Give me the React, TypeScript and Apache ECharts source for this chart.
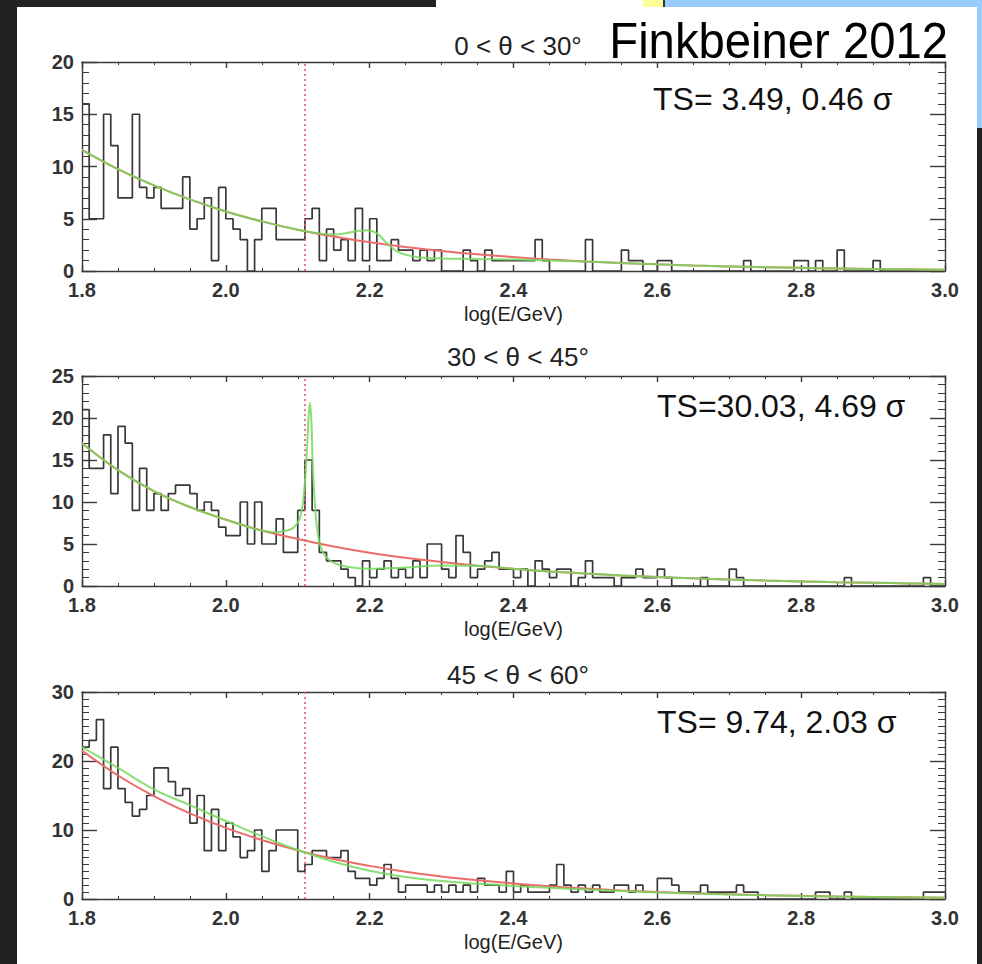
import React, { useEffect, useRef } from 'react';
import * as echarts from 'echarts';

const W = 982;
const H = 964;

// ---- data ----
const BIN_START = 1.8;
const BIN_WIDTH = 0.01;
const X_MIN = 1.8;
const X_MAX = 3.0;
const LINE_X = 2.114; // log10(130 GeV)

const TITLES = ['0 < θ < 30°', '30 < θ < 45°', '45 < θ < 60°'];
const TS_LABELS = ['TS= 3.49, 0.46 σ', 'TS=30.03, 4.69 σ', 'TS= 9.74, 2.03 σ'];
const X_NAME = 'log(E/GeV)';
const HEADER = 'Finkbeiner 2012';
const Y_MAX = [20, 25, 30];
const Y_STEP = [5, 5, 10];

const H1 = [
  16, 5, 5, 15, 12, 7, 7, 15, 8, 7,
  8, 6, 6, 6, 9, 4, 5, 7, 1, 8,
  5, 4, 3, 0, 3, 6, 6, 3, 3, 3,
  3, 5, 6, 1, 4, 2, 3, 1, 6, 1,
  5, 1, 1, 3, 2, 2, 1, 2, 1, 2,
  0, 0, 0, 2, 1, 0, 2, 1, 1, 1,
  1, 1, 1, 3, 1, 0, 0, 0, 0, 0,
  3, 0, 0, 0, 0, 2, 1, 1, 0, 0,
  1, 1, 0, 0, 0, 0, 0, 0, 0, 0,
  0, 0, 1, 0, 0, 0, 0, 0, 0, 1,
  1, 0, 1, 0, 0, 2, 0, 0, 0, 0,
  1, 0, 0, 0, 0, 0, 0, 0, 0, 0,
];

const H2 = [
  21, 14, 14, 18, 11, 19, 17, 9, 14, 9,
  11, 9, 11, 12, 12, 11, 9, 10, 9, 7,
  6, 6, 10, 5, 10, 5, 5, 8, 4, 4,
  9, 15, 9, 4, 3, 3, 2, 1, 0, 3,
  1, 2, 3, 1, 2, 1, 3, 1, 5, 5,
  2, 1, 6, 4, 1, 2, 3, 4, 2, 2,
  1, 2, 0, 3, 2, 1, 2, 2, 0, 1,
  3, 1, 1, 1, 0, 1, 1, 2, 1, 1,
  2, 1, 0, 0, 0, 0, 1, 0, 0, 0,
  2, 1, 0, 0, 0, 0, 0, 0, 0, 0,
  0, 0, 0, 0, 0, 0, 1, 0, 0, 0,
  0, 0, 0, 0, 0, 0, 0, 1, 0, 0,
];

const H3 = [
  22, 23, 26, 16, 22, 16, 14, 12, 13, 15,
  19, 19, 17, 15, 16, 11, 15, 7, 13, 7,
  11, 9, 6, 7, 10, 4, 7, 10, 10, 10,
  4, 5, 7, 7, 6, 6, 7, 4, 3, 3,
  2, 3, 5, 3, 1, 2, 2, 2, 1, 2,
  1, 2, 1, 2, 1, 3, 2, 2, 1, 4,
  1, 2, 1, 1, 1, 2, 5, 2, 1, 2,
  1, 2, 1, 1, 2, 2, 1, 2, 1, 1,
  3, 3, 2, 1, 1, 1, 2, 1, 1, 1,
  1, 2, 1, 1, 0, 0, 0, 0, 0, 0,
  0, 0, 1, 1, 0, 0, 1, 0, 0, 0,
  0, 0, 0, 0, 0, 0, 0, 1, 1, 1,
];

const RED_1: [number, number][] = [
  [1.8, 11.6], [1.85, 9.75], [1.9, 8.2], [1.95, 6.85], [2.0, 5.7], [2.05, 4.75], [2.1, 3.95],
  [2.15, 3.3], [2.2, 2.75], [2.25, 2.3], [2.3, 1.92], [2.35, 1.6], [2.4, 1.33], [2.45, 1.1],
  [2.5, 0.92], [2.55, 0.77], [2.6, 0.64], [2.65, 0.53], [2.7, 0.44], [2.75, 0.36], [2.8, 0.3],
  [2.85, 0.25], [2.9, 0.2], [2.95, 0.16], [3.0, 0.13],
];
const GREEN_1: [number, number][] = [
  [1.8, 11.6], [1.85, 9.75], [1.9, 8.2], [1.95, 6.85], [2.0, 5.7], [2.05, 4.75], [2.1, 3.95],
  [2.13, 3.6], [2.15, 3.5], [2.17, 3.65], [2.185, 3.85], [2.197, 3.9], [2.21, 3.6],
  [2.222, 2.8], [2.235, 2.0], [2.25, 1.55], [2.27, 1.3], [2.3, 1.2], [2.35, 1.15], [2.4, 1.1],
  [2.45, 1.0], [2.5, 0.9], [2.55, 0.77], [2.6, 0.64], [2.65, 0.53], [2.7, 0.44], [2.75, 0.36],
  [2.8, 0.3], [2.85, 0.25], [2.9, 0.2], [2.95, 0.16], [3.0, 0.13],
];

const RED_2: [number, number][] = [
  [1.8, 17.0], [1.85, 13.8], [1.9, 11.3], [1.95, 9.4], [2.0, 7.9], [2.05, 6.6], [2.1, 5.6],
  [2.15, 4.7], [2.2, 3.95], [2.25, 3.35], [2.3, 2.85], [2.35, 2.42], [2.4, 2.05], [2.45, 1.74],
  [2.5, 1.48], [2.55, 1.26], [2.6, 1.07], [2.65, 0.91], [2.7, 0.77], [2.75, 0.65], [2.8, 0.55],
  [2.85, 0.46], [2.9, 0.38], [2.95, 0.31], [3.0, 0.25],
];
const GREEN_2: [number, number][] = [
  [1.8, 17.0], [1.85, 13.8], [1.9, 11.3], [1.95, 9.4], [2.0, 7.9], [2.05, 6.6], [2.07, 6.4],
  [2.085, 6.6], [2.095, 7.0], [2.103, 8.1], [2.108, 10.5], [2.112, 15.0], [2.115, 20.0],
  [2.117, 21.8], [2.119, 19.5], [2.121, 14.0], [2.124, 9.5], [2.127, 6.8], [2.132, 4.6],
  [2.14, 3.4], [2.15, 2.75], [2.17, 2.25], [2.2, 2.05], [2.25, 2.2], [2.3, 2.45], [2.35, 2.4],
  [2.4, 2.05], [2.45, 1.74], [2.5, 1.48], [2.55, 1.26], [2.6, 1.07], [2.65, 0.91], [2.7, 0.77],
  [2.75, 0.65], [2.8, 0.55], [2.85, 0.46], [2.9, 0.38], [2.95, 0.31], [3.0, 0.25],
];

const RED_3: [number, number][] = [
  [1.8, 21.5], [1.85, 17.9], [1.9, 14.9], [1.95, 12.4], [2.0, 10.3], [2.05, 8.55], [2.1, 7.05],
  [2.15, 5.8], [2.2, 4.8], [2.25, 3.95], [2.3, 3.25], [2.35, 2.7], [2.4, 2.25], [2.45, 1.85],
  [2.5, 1.52], [2.55, 1.25], [2.6, 1.02], [2.65, 0.84], [2.7, 0.69], [2.75, 0.56], [2.8, 0.46],
  [2.85, 0.37], [2.9, 0.3], [2.95, 0.24], [3.0, 0.19],
];
const GREEN_3: [number, number][] = [
  [1.8, 22.0], [1.85, 19.0], [1.9, 15.9], [1.95, 13.6], [2.0, 11.3], [2.05, 9.1], [2.1, 7.1],
  [2.15, 5.4], [2.2, 4.1], [2.25, 3.2], [2.3, 2.6], [2.35, 2.2], [2.4, 1.9], [2.45, 1.62],
  [2.5, 1.38], [2.55, 1.15], [2.6, 0.96], [2.65, 0.8], [2.7, 0.66], [2.75, 0.54], [2.8, 0.44],
  [2.85, 0.36], [2.9, 0.29], [2.95, 0.23], [3.0, 0.18],
];

const HISTS = [H1, H2, H3];
const REDS = [RED_1, RED_2, RED_3];
const GREENS = [GREEN_1, GREEN_2, GREEN_3];

// ---- layout / style ----
const FONT = '"Liberation Sans", Arial, Helvetica, sans-serif';
const AXIS_COLOR = '#3a3a3a';
const GRID_LEFT = 82;
const GRID_WIDTH = 863;
const GRID_TOPS = [62, 376, 692];
const GRID_HEIGHTS = [209, 210, 207];
const TITLE_Y = [46, 357, 675];
const TS_POS = [[653, 99], [657, 406], [657, 722]];

function histData(values: number[]): [number, number][] {
  const pts: [number, number][] = values.map((v, i) => [
    Math.round((BIN_START + i * BIN_WIDTH) * 1000) / 1000,
    v,
  ]);
  pts.push([X_MAX, values[values.length - 1]]);
  return pts;
}

function buildOption() {
  const lineStyle = { color: AXIS_COLOR, width: 1.4 };
  const grids: any[] = [];
  const xAxes: any[] = [];
  const yAxes: any[] = [];
  const series: any[] = [];
  const graphics: any[] = [
    { type: 'rect', z: -10, shape: { x: 17, y: 7, width: 960, height: 957 }, style: { fill: '#ffffff' } },
    { type: 'rect', z: -10, shape: { x: 436, y: 0, width: 207, height: 8 }, style: { fill: '#ffffff' } },
    { type: 'rect', z: -10, shape: { x: 643, y: 0, width: 21, height: 7 }, style: { fill: '#ffff99' } },
    { type: 'rect', z: -10, shape: { x: 664, y: 0, width: 318, height: 7 }, style: { fill: '#99ccff' } },
    { type: 'rect', z: -10, shape: { x: 977, y: 0, width: 5, height: 128 }, style: { fill: '#99ccff' } },
    { type: 'rect', z: -9, shape: { x: 663, y: 0, width: 2, height: 7 }, style: { fill: '#333333' } },
    {
      type: 'text', z: 20, x: 948, y: 41, scaleX: 0.945,
      style: { text: HEADER, fill: '#000000', fontSize: 50, fontFamily: FONT, align: 'right', verticalAlign: 'middle' },
    },
  ];

  for (let p = 0; p < 3; p++) {
    grids.push({ left: GRID_LEFT, top: GRID_TOPS[p], width: GRID_WIDTH, height: GRID_HEIGHTS[p], containLabel: false });
    const xBase = {
      type: 'value', gridIndex: p, min: X_MIN, max: X_MAX, interval: 0.2,
      axisLine: { show: true, onZero: false, lineStyle },
      axisTick: { show: true, inside: true, length: 6, lineStyle },
      minorTick: { show: true, splitNumber: 4, length: 3, lineStyle: { color: AXIS_COLOR, width: 1 } },
      splitLine: { show: false },
      minorSplitLine: { show: false },
    };
    xAxes.push({
      ...xBase,
      position: 'bottom',
      axisLabel: {
        show: true, margin: 9, fontSize: 20, fontWeight: 'bold', color: '#333333', fontFamily: FONT,
        formatter: (v: number) => v.toFixed(1), showMinLabel: true, showMaxLabel: true,
      },
      name: X_NAME, nameLocation: 'middle', nameGap: 33,
      nameTextStyle: { fontSize: 20, color: '#222222', fontFamily: FONT },
    });
    xAxes.push({ ...xBase, position: 'top', axisLabel: { show: false } });

    const yBase = {
      type: 'value', gridIndex: p, min: 0, max: Y_MAX[p], interval: Y_STEP[p],
      axisLine: { show: true, onZero: false, lineStyle },
      axisTick: { show: true, inside: true, length: 15, lineStyle },
      minorTick: { show: true, splitNumber: Y_STEP[p], length: 7, lineStyle: { color: AXIS_COLOR, width: 1 } },
      splitLine: { show: false },
      minorSplitLine: { show: false },
    };
    yAxes.push({
      ...yBase,
      position: 'left',
      axisLabel: { show: true, margin: 8, fontSize: 20, fontWeight: 'bold', color: '#333333', fontFamily: FONT },
    });
    yAxes.push({ ...yBase, position: 'right', axisLabel: { show: false } });

    const xi = p * 2;
    const yi = p * 2;
    series.push({
      type: 'line', xAxisIndex: xi, yAxisIndex: yi, step: 'end', showSymbol: false, symbol: 'none',
      data: histData(HISTS[p]),
      lineStyle: { color: '#383838', width: 1.7 },
      z: 3,
      markLine: {
        silent: true, symbol: ['none', 'none'], label: { show: false },
        lineStyle: { color: '#e55a70', type: [2, 3], width: 1.6 },
        data: [{ xAxis: LINE_X }],
      },
    });
    series.push({
      type: 'line', xAxisIndex: xi, yAxisIndex: yi, showSymbol: false, symbol: 'none',
      smooth: 0.4,
      data: REDS[p], lineStyle: { color: '#ea6d68', width: 2 }, z: 4,
    });
    series.push({
      type: 'line', xAxisIndex: xi, yAxisIndex: yi, showSymbol: false, symbol: 'none',
      smooth: 0.4,
      data: GREENS[p], lineStyle: { color: '#74d95c', width: 2, opacity: 0.85 }, z: 5,
    });

    graphics.push({
      type: 'text', z: 20, x: 518, y: TITLE_Y[p],
      style: { text: TITLES[p], fill: '#222222', fontSize: 26, fontFamily: FONT, align: 'center', verticalAlign: 'middle' },
    });
    graphics.push({
      type: 'text', z: 20, x: TS_POS[p][0], y: TS_POS[p][1],
      style: { text: TS_LABELS[p], fill: '#111111', fontSize: 32, fontFamily: FONT, align: 'left', verticalAlign: 'middle' },
    });
  }

  return {
    animation: false,
    backgroundColor: '#222222',
    grid: grids,
    xAxis: xAxes,
    yAxis: yAxes,
    series,
    graphic: { elements: graphics },
  };
}

export default function App() {
  const ref = useRef<HTMLDivElement>(null);
  useEffect(() => {
    if (!ref.current) return;
    const chart = echarts.init(ref.current, null, { renderer: 'svg', width: W, height: H });
    chart.setOption(buildOption() as any);
    return () => chart.dispose();
  }, []);
  return <div ref={ref} style={{ position: 'fixed', left: 0, top: 0, width: W, height: H }} />;
}
